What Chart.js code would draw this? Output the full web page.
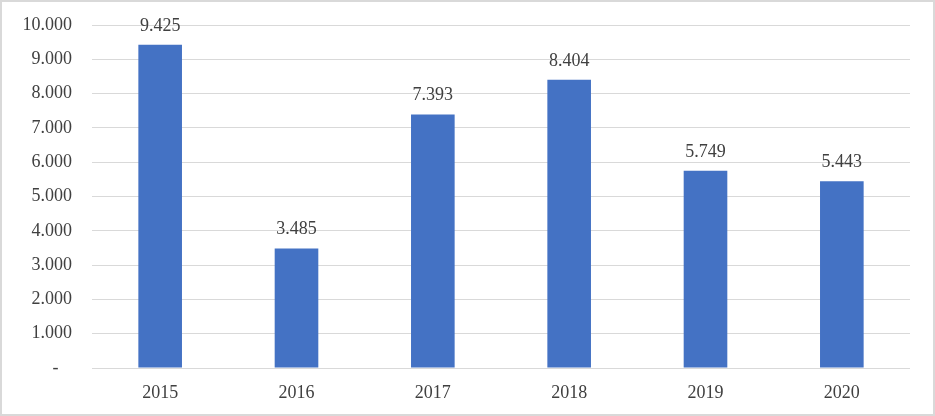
<!DOCTYPE html>
<html>
<head>
<meta charset="utf-8">
<script src="https://cdn.jsdelivr.net/npm/chart.js@4/dist/chart.umd.min.js"></script>
<style>
  html, body { margin: 0; padding: 0; background: #fff; }
  #wrap { width: 935px; height: 416px; box-sizing: border-box; border: 2px solid #d9d9d9; }
  #wrap canvas { display: block; }
</style>
</head>
<body>
<div id="wrap"><canvas id="barChart" width="931" height="412"></canvas></div>
<script>
// Data
const years = ['2015', '2016', '2017', '2018', '2019', '2020'];
const values = [9425, 3485, 7393, 8404, 5749, 5443];
const yTicks = [0, 1000, 2000, 3000, 4000, 5000, 6000, 7000, 8000, 9000, 10000];

const FONT = "'Liberation Serif', 'Times New Roman', serif";
const TEXT_COLOR = '#404040';

// thousands with a dot
function fmt(v) {
    return String(v).replace(/\B(?=(\d{3})+(?!\d))/g, '.');
}

// labels above each bar
const valueLabels = {
    id: 'valueLabels',
    afterDatasetsDraw(chart) {
        const ctx = chart.ctx;
        const meta = chart.getDatasetMeta(0);
        ctx.save();
        ctx.font = '18px ' + FONT;
        ctx.fillStyle = TEXT_COLOR;
        ctx.textAlign = 'center';
        ctx.textBaseline = 'alphabetic';
        meta.data.forEach((bar, i) => {
            ctx.fillText(fmt(values[i]), bar.x, bar.y - 14);
        });
        ctx.restore();
    }
};

const ctx = document.getElementById('barChart').getContext('2d');
new Chart(ctx, {
    type: 'bar',
    data: {
        labels: years,
        datasets: [{
            data: values,
            backgroundColor: '#4472C4',
            borderWidth: 0,
            categoryPercentage: 1,
            barPercentage: 0.32
        }]
    },
    options: {
        responsive: false,
        animation: false,
        layout: { padding: { top: 23, right: 23, left: 0, bottom: 0 } },
        plugins: {
            legend: { display: false },
            tooltip: { enabled: false }
        },
        scales: {
            x: {
                grid: { display: false },
                border: { display: false },
                ticks: {
                    color: TEXT_COLOR,
                    font: { family: FONT, size: 18 },
                    padding: 6
                },
                afterFit(scale) { scale.height = 46; }
            },
            y: {
                min: 0,
                max: 10000,
                afterBuildTicks(scale) { scale.ticks = yTicks.map(v => ({ value: v })); },
                grid: { color: '#d9d9d9', lineWidth: 1, drawTicks: false },
                border: { display: false },
                ticks: {
                    color: TEXT_COLOR,
                    font: { family: FONT, size: 18 },
                    padding: 20,
                    callback: v => v === 0 ? '-   ' : fmt(v)
                },
                afterFit(scale) {
                    scale.width = 90;
                    scale.paddingTop = 0;
                    scale.paddingBottom = 0;
                }
            }
        }
    },
    plugins: [valueLabels]
});
</script>
</body>
</html>
